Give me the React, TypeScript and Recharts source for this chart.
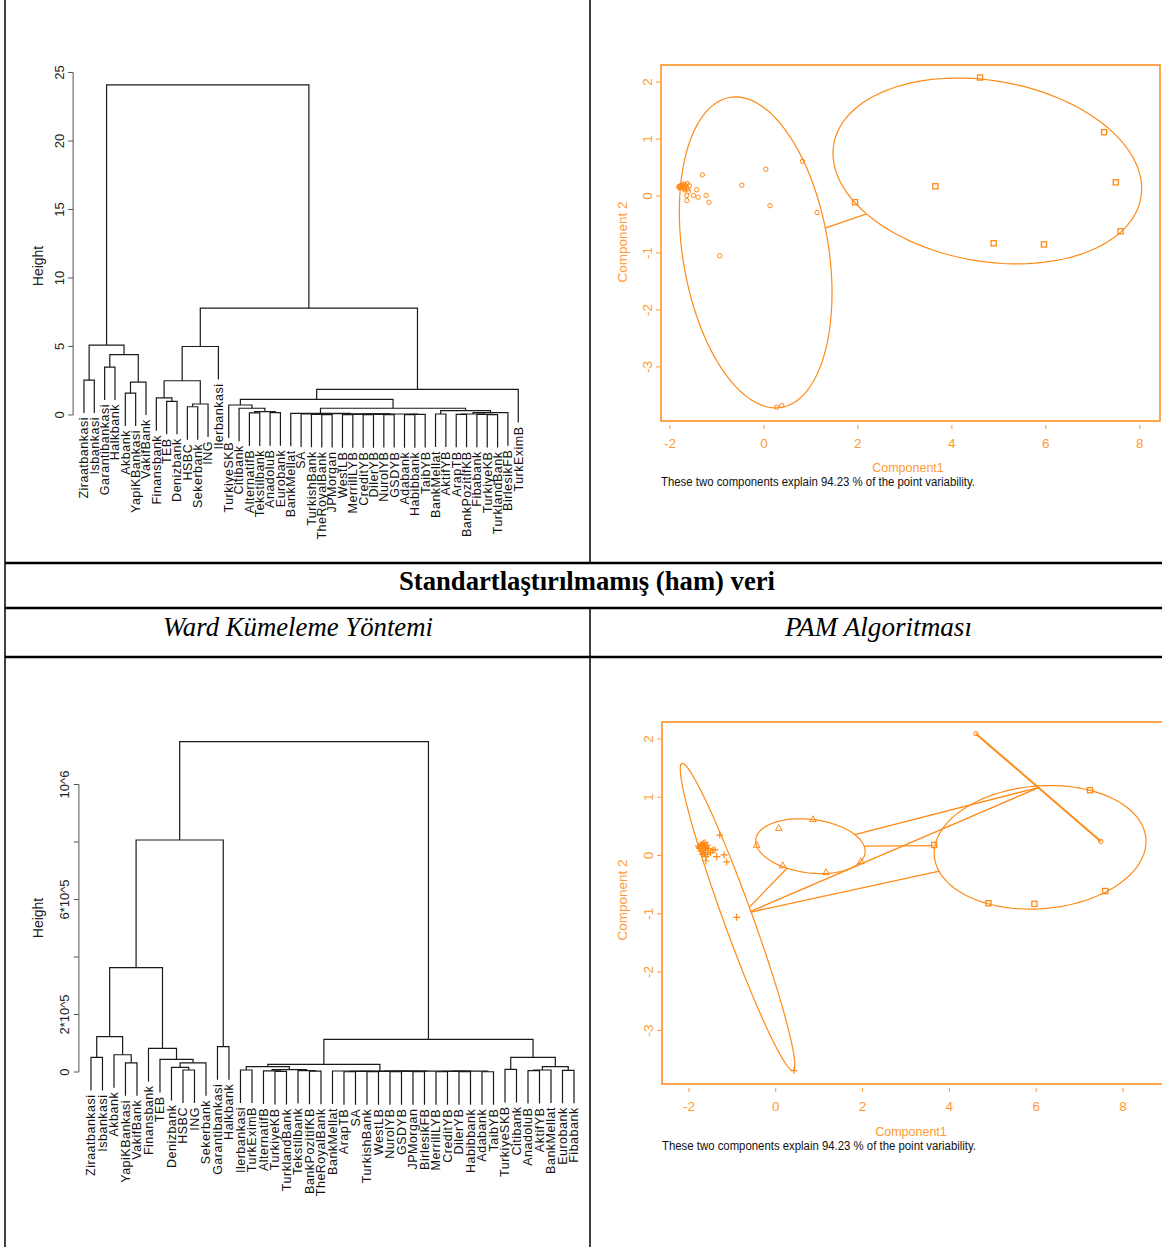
import React from "react";
import { ScatterChart, Scatter, XAxis, YAxis, ReferenceLine, ReferenceArea } from "recharts";

// ---------- dendrogram data ----------
// merges: [id, left, right, height]; a number is a leaf index, a string an earlier merge
type Ref = number | string;
type Merge = [string, Ref, Ref, number];

const topLeaves = [
  "Ziraatbankasi", "Isbankasi", "Garantibankasi", "Halkbank", "Akbank", "YapiKBankasi", "VakifBank",
  "Finansbank", "TEB", "Denizbank", "HSBC", "Sekerbank", "ING", "Ilerbankasi",
  "TurkiyeSKB", "Citibank", "AlternatifB", "Tekstilbank", "AnadoluB", "Eurobank",
  "BankMellat", "SA", "TurkishBank", "TheRoyalBank", "JPMorgan", "WestLB", "MerrillLYB", "CreditYB",
  "DilerYB", "NurolYB", "GSDYB", "Adabank", "Habibbank", "TaibYB",
  "BankMellat", "AktifYB", "ArapTB", "BankPozitifKB", "Fibabank", "TurkiyeKB", "TurklandBank", "BirlesikFB",
  "TurkEximB",
];

const topMerges: Merge[] = [
  ["t1", 0, 1, 2.55], ["t2", 2, 3, 3.5], ["t3", 4, 5, 1.6], ["t4", "t3", 6, 2.4],
  ["t5", "t2", "t4", 4.4], ["t6", "t1", "t5", 5.1],
  ["t7", 8, 9, 1.0], ["t8", 7, "t7", 1.25], ["t9", 10, 11, 0.6], ["t10", "t9", 12, 0.8],
  ["t11", "t8", "t10", 2.5], ["t12", "t11", 13, 5.0],
  ["p1", 16, 17, 0.15], ["p2", 18, 19, 0.17], ["p3", "p1", "p2", 0.24], ["p4", 15, "p3", 0.49], ["p5", 14, "p4", 0.73],
  ["q1", 23, 24, 0.03], ["q2", 22, "q1", 0.05], ["q3", 21, "q2", 0.07],
  ["q4", 25, 26, 0.02], ["q5", 27, 28, 0.02], ["q6", 29, 30, 0.03], ["q7", "q5", "q6", 0.04],
  ["q8", "q4", "q7", 0.05], ["q9", 31, 32, 0.02], ["q10", "q9", 33, 0.04], ["q11", "q8", "q10", 0.07],
  ["q12", "q3", "q11", 0.09], ["q13", 20, "q12", 0.12],
  ["r1", 34, 35, 0.07], ["r2", 36, 37, 0.05], ["r3", 39, 40, 0.03], ["r4", 38, "r3", 0.05],
  ["r5", "r2", "r4", 0.07], ["r6", "r5", 41, 0.17], ["r7", "r1", "r6", 0.32],
  ["s1", "q13", "r7", 0.49], ["s2", "p5", "s1", 1.14], ["s3", "s2", 42, 1.87], ["s4", "t12", "s3", 7.8],
  ["root", "t6", "s4", 24.1],
];
const topTicks = [0, 5, 10, 15, 20, 25];

const bottomLeaves = [
  "Ziraatbankasi", "Isbankasi", "Akbank", "YapiKBankasi", "VakifBank", "Finansbank", "TEB",
  "Denizbank", "HSBC", "ING", "Sekerbank", "Garantibankasi", "Halkbank",
  "Ilerbankasi", "TurkEximB", "AlternatifB", "TurkiyeKB", "TurklandBank", "Tekstilbank", "BankPozitifKB",
  "TheRoyalBank", "BankMellat", "ArapTB", "SA", "TurkishBank", "WestLB", "NurolYB", "GSDYB", "JPMorgan",
  "BirlesikFB", "MerrillLYB", "CreditYB", "DilerYB", "Habibbank", "Adabank", "TaibYB",
  "TurkiyeSKB", "Citibank", "AnadoluB", "AktifYB", "BankMellat", "Eurobank", "Fibabank",
];

const bottomMerges: Merge[] = [
  ["b1", 0, 1, 51000], ["b2", 3, 4, 32000], ["b3", 2, "b2", 60000], ["b4", "b1", "b3", 123000],
  ["b5", 8, 9, 7000], ["b6", 7, "b5", 16000], ["b7", "b6", 10, 32000], ["b8", 6, "b7", 44000],
  ["b9", 5, "b8", 82000], ["b10", "b4", "b9", 363000], ["b11", 11, 12, 88000], ["b12", "b10", "b11", 807000],
  ["d1", 13, 14, 7000], ["d2", 16, 17, 2000], ["d3", 15, "d2", 4000], ["d4", 19, 20, 3000],
  ["d5", 18, "d4", 5000], ["d6", "d3", "d5", 8000], ["d7", "d1", "d6", 18600],
  ["g1", 22, 23, 1000], ["g2", 24, 25, 1500], ["g3", "g1", "g2", 2000], ["g4", 26, 27, 1000],
  ["g5", 28, 29, 1500], ["g6", "g4", "g5", 2000], ["g7", 30, 31, 1000], ["g8", 32, 33, 1200],
  ["g9", "g7", "g8", 2500], ["g10", 34, 35, 1000], ["g11", "g9", "g10", 3000], ["g12", "g3", "g6", 2500],
  ["g13", "g12", "g11", 3200], ["f1", 21, "g13", 3500], ["e1", "d7", "f1", 26700],
  ["c1", 38, 39, 5000], ["c2", "c1", 40, 7000], ["c3", 41, 42, 6000], ["c4", "c2", "c3", 18600],
  ["c5", 36, 37, 9300], ["c6", "c5", "c4", 51000], ["e2", "e1", "c6", 113700],
  ["root", "b12", "e2", 1149000],
];
const bottomTicks = [0, 200000, 400000, 600000, 800000, 1000000];
const bottomTickLabels: Record<number, string> = { 0: "0", 200000: "2*10^5", 600000: "6*10^5", 1000000: "10^6" };

// ---------- clusplot data (Component1, Component2) ----------
const topCircles: [number, number][] = [
  [-1.8, 0.17], [-1.78, 0.15], [-1.77, 0.18], [-1.79, 0.14], [-1.76, 0.16], [-1.81, 0.16], [-1.74, 0.15],
  [-1.75, 0.19], [-1.72, 0.17], [-1.7, 0.14], [-1.68, 0.2], [-1.63, 0.22], [-1.59, 0.18], [-1.66, 0.13],
  [-1.61, 0.08], [-1.64, 0.01], [-1.64, -0.08], [-1.5, 0.01], [-1.43, 0.11], [-1.4, -0.02], [-1.31, 0.37],
  [-1.23, 0.01], [-1.17, -0.11], [-0.94, -1.05], [-0.47, 0.19], [0.04, 0.47], [0.13, -0.17], [0.82, 0.61],
  [1.13, -0.29], [0.38, -3.68], [0.27, -3.71], [-1.69, 0.11], [-1.72, 0.21], [-1.66, 0.17], [-1.62, 0.12],
];
const topSquares: [number, number][] = [
  [4.6, 2.08], [7.24, 1.12], [3.65, 0.17], [7.49, 0.24], [1.94, -0.11], [4.89, -0.83], [5.96, -0.85], [7.59, -0.62],
];
// ellipse: [centre x, centre y, var x, var y, cov xy]
const topEllipse1 = [-0.175, -0.99, 2.64, 7.45, -1.16];
const topEllipse2 = [4.755, 0.44, 10.79, 2.66, -1.02];
const topLinks: [number, number][][] = [[[1.32, -0.56], [2.17, -0.32]]];

const botCrosses: [number, number][] = [
  [-1.78, 0.16], [-1.75, 0.14], [-1.73, 0.18], [-1.76, 0.12], [-1.71, 0.15], [-1.7, 0.19], [-1.68, 0.13],
  [-1.67, 0.21], [-1.65, 0.17], [-1.63, 0.22], [-1.62, 0.1], [-1.6, 0.14], [-1.66, 0.06], [-1.64, 0.03],
  [-1.61, -0.02], [-1.61, -0.09], [-1.58, 0.18], [-1.55, 0.12], [-1.5, 0.05], [-1.45, 0.09], [-1.4, 0.1],
  [-1.36, -0.02], [-1.29, 0.35], [-1.19, 0.01], [-1.13, -0.11], [-0.9, -1.06], [0.42, -3.69], [-1.72, 0.08],
  [-1.69, 0.02], [-1.57, 0.02],
];
const botTriangles: [number, number][] = [[0.07, 0.47], [0.86, 0.62], [-0.44, 0.18], [0.16, -0.17], [1.16, -0.29], [1.96, -0.1]];
const botSquares: [number, number][] = [[3.65, 0.18], [4.9, -0.82], [5.96, -0.83], [7.59, -0.61], [7.24, 1.12]];
const botCircles: [number, number][] = [[4.61, 2.09], [7.49, 0.24]];
const botEllipseA = [-0.88, -1.055, 1.742, 6.943, -3.35];
const botEllipseB = [0.8, 0.16, 1.588, 0.2209, -0.113];
const botEllipseC = [6.09, 0.14, 5.954, 1.1236, 0.244];
const botLinks: [number, number][][] = [
  [[-0.61, -0.89], [0.27, -0.21]],
  [[-0.57, -0.97], [3.77, -0.27]],
  [[-0.58, -0.96], [6.07, 1.17]],
  [[2.04, 0.16], [3.63, 0.17]],
  [[1.82, 0.36], [6.07, 1.17]],
];
const clusXTicks = [-2, 0, 2, 4, 6, 8];
const clusYTicks = [-3, -2, -1, 0, 1, 2];

// ---------- helpers ----------
const W = 1162;
const H = 1247;
const FONT = '"Liberation Sans", Arial, Helvetica, sans-serif';
const SERIF = '"Liberation Serif", "Times New Roman", serif';
const OR = "#ff8a15";
const OR_TXT = "#ff9a33";
const INK = "#1a1a1a";

type Rect = { left: number; right: number; top: number; bottom: number };

function buildTree(leaves: string[], merges: Merge[]) {
  const hang = 0.1 * Math.max(...merges.map((m) => m[3]));
  const pos: Record<string, { x: number; h: number }> = {};
  const leafEnd = leaves.map(() => 0);
  const segments = merges.map(([id, a, b, h]) => {
    const side = (r: Ref) => {
      if (typeof r === "number") {
        leafEnd[r] = h - hang;
        return { x: r, h: h - hang };
      }
      return pos[r];
    };
    const pa = side(a);
    const pb = side(b);
    pos[id] = { x: (pa.x + pb.x) / 2, h };
    return [
      { x: pa.x, y: pa.h }, { x: pa.x, y: h }, { x: pb.x, y: h }, { x: pb.x, y: pb.h },
    ];
  });
  const labels = leaves.map((name, i) => ({ x: i, y: leafEnd[i], name }));
  return { segments, labels };
}

function ellipse([cx, cy, sxx, syy, sxy]: number[]) {
  const a = Math.sqrt(sxx);
  const l21 = sxy / a;
  const l22 = Math.sqrt(syy - l21 * l21);
  return Array.from({ length: 121 }, (_, k) => {
    const t = (2 * Math.PI * k) / 120;
    return { x: cx + a * Math.cos(t), y: cy + l21 * Math.cos(t) + l22 * Math.sin(t) };
  });
}

const pts = (arr: [number, number][]) => arr.map(([x, y]) => ({ x, y }));
const noShape = () => <g />;

const leafLabel = (p: any) => {
  const x = p.cx;
  const y = p.cy + 4;
  const name = p.payload?.name ?? p.name;
  return (
    <text x={x} y={y} transform={`rotate(-90 ${x} ${y})`} textAnchor="end" dy="0.35em"
      fontSize={12.5} letterSpacing={0.5} fill="#111" fontFamily={FONT}>
      {name}
    </text>
  );
};

const circleMark = (p: any) => <circle cx={p.cx} cy={p.cy} r={2.2} fill="none" stroke={OR} strokeWidth={1} />;
const squareMark = (p: any) => (
  <rect x={p.cx - 2.6} y={p.cy - 2.6} width={5.2} height={5.2} fill="none" stroke={OR} strokeWidth={1.3} />
);
const crossMark = (p: any) => (
  <path d={`M${p.cx - 3.5},${p.cy}H${p.cx + 3.5}M${p.cx},${p.cy - 3.5}V${p.cy + 3.5}`} stroke={OR} strokeWidth={1.2} />
);
const triangleMark = (p: any) => (
  <path d={`M${p.cx},${p.cy - 3.6}L${p.cx + 3.3},${p.cy + 2.3}L${p.cx - 3.3},${p.cy + 2.3}Z`} fill="none" stroke={OR} strokeWidth={1} />
);

function Dendrogram(props: {
  leaves: string[]; merges: Merge[]; ticks: number[]; fmt: (v: number) => string;
  plot: Rect; xDomain: [number, number]; yDomain: [number, number]; labelX: number;
}) {
  const { plot, xDomain, yDomain, ticks, fmt, labelX } = props;
  const { segments, labels } = buildTree(props.leaves, props.merges);
  const yTick = (p: any) => (
    <g>
      <line x1={plot.left - 5} x2={plot.left} y1={p.y} y2={p.y} stroke="#555" strokeWidth={1} />
      <text x={labelX} y={p.y} transform={`rotate(-90 ${labelX} ${p.y})`} textAnchor="middle" dy="0.35em"
        fontSize={13} fill="#222" fontFamily={FONT}>
        {fmt(p.payload.value)}
      </text>
    </g>
  );
  return (
    <div style={{ position: "absolute", left: 0, top: 0 }}>
      <ScatterChart width={W} height={H}
        margin={{ top: plot.top, right: W - plot.right, bottom: H - plot.bottom, left: 0 }}>
        <XAxis type="number" dataKey="x" domain={xDomain} hide />
        <YAxis type="number" dataKey="y" domain={yDomain} ticks={ticks} interval={0} width={plot.left}
          axisLine={false} tickLine={false} tick={yTick} />
        <ReferenceLine segment={[{ x: xDomain[0], y: ticks[0] }, { x: xDomain[0], y: ticks[ticks.length - 1] }]}
          stroke="#555" strokeWidth={1} />
        {segments.map((seg, i) => (
          <Scatter key={i} data={seg} line={{ stroke: INK, strokeWidth: 1.2 }} shape={noShape} isAnimationActive={false} />
        ))}
        <Scatter data={labels} shape={leafLabel} isAnimationActive={false} />
      </ScatterChart>
    </div>
  );
}

function ClusPlot(props: {
  plot: Rect; width: number; xDomain: [number, number]; yDomain: [number, number];
  ellipses: number[][]; links: [number, number][][]; children?: React.ReactNode;
}) {
  const { plot, width, xDomain, yDomain } = props;
  const xTick = (p: any) => (
    <g>
      <line x1={p.x} x2={p.x} y1={plot.bottom + 4} y2={plot.bottom + 8} stroke={OR_TXT} strokeWidth={1} />
      <text x={p.x} y={plot.bottom + 22} textAnchor="middle" dy="0.35em" fontSize={13.5} fill={OR_TXT} fontFamily={FONT}>
        {String(p.payload.value)}
      </text>
    </g>
  );
  const yTick = (p: any) => {
    const lx = plot.left - 14;
    return (
      <g>
        <line x1={plot.left - 5} x2={plot.left} y1={p.y} y2={p.y} stroke={OR_TXT} strokeWidth={1} />
        <text x={lx} y={p.y} transform={`rotate(-90 ${lx} ${p.y})`} textAnchor="middle" dy="0.35em"
          fontSize={13.5} fill={OR_TXT} fontFamily={FONT}>
          {String(p.payload.value)}
        </text>
      </g>
    );
  };
  return (
    <div style={{ position: "absolute", left: 0, top: 0 }}>
      <ScatterChart width={width} height={H}
        margin={{ top: plot.top, right: width - plot.right, bottom: H - plot.bottom - 40, left: plot.left - 60 }}>
        <XAxis type="number" dataKey="x" domain={xDomain} ticks={clusXTicks} interval={0} height={40}
          axisLine={false} tickLine={false} tick={xTick} />
        <YAxis type="number" dataKey="y" domain={yDomain} ticks={clusYTicks} interval={0} width={60}
          axisLine={false} tickLine={false} tick={yTick} />
        <ReferenceArea x1={xDomain[0]} x2={xDomain[1]} y1={yDomain[0]} y2={yDomain[1]}
          fill="none" fillOpacity={0} stroke={OR} strokeWidth={1.5} />
        {props.ellipses.map((e, i) => (
          <Scatter key={"e" + i} data={ellipse(e)} line={{ stroke: OR, strokeWidth: 1.2 }} shape={noShape} isAnimationActive={false} />
        ))}
        {props.links.map((l, i) => (
          <Scatter key={"l" + i} data={pts(l)} line={{ stroke: OR, strokeWidth: 1.3 }} shape={noShape} isAnimationActive={false} />
        ))}
        {props.children}
      </ScatterChart>
    </div>
  );
}

function Overlay() {
  const txt = { fontFamily: FONT };
  return (
    <svg width={W} height={H} style={{ position: "absolute", left: 0, top: 0, pointerEvents: "none" }}>
      {/* table rules */}
      <line x1={5} x2={5} y1={0} y2={H} stroke="#000" strokeWidth={1.5} />
      <line x1={590} x2={590} y1={0} y2={563} stroke="#000" strokeWidth={1.5} />
      <line x1={590} x2={590} y1={608} y2={H} stroke="#000" strokeWidth={1.5} />
      {[563, 608, 657].map((y) => (
        <line key={y} x1={5} x2={W} y1={y} y2={y} stroke="#000" strokeWidth={2.5} />
      ))}
      <text x={587} y={581} dy="0.35em" textAnchor="middle" fontFamily={SERIF} fontWeight="bold" fontSize={27}
        textLength={376} lengthAdjust="spacingAndGlyphs">Standartlaştırılmamış (ham) veri</text>
      <text x={298} y={627} dy="0.35em" textAnchor="middle" fontFamily={SERIF} fontStyle="italic" fontSize={27}
        textLength={270} lengthAdjust="spacingAndGlyphs">Ward Kümeleme Yöntemi</text>
      <text x={878.5} y={627} dy="0.35em" textAnchor="middle" fontFamily={SERIF} fontStyle="italic" fontSize={27}
        textLength={187} lengthAdjust="spacingAndGlyphs">PAM Algoritması</text>

      {/* dendrogram axis titles */}
      <text x={38} y={266} dy="0.35em" transform="rotate(-90 38 266)" textAnchor="middle" fontSize={14} fill="#222" style={txt}>Height</text>
      <text x={38} y={918} dy="0.35em" transform="rotate(-90 38 918)" textAnchor="middle" fontSize={14} fill="#222" style={txt}>Height</text>

      {/* clusplot titles */}
      <text x={622} y={242} dy="0.35em" transform="rotate(-90 622 242)" textAnchor="middle" fontSize={13.5} fill={OR_TXT} style={txt}>Component 2</text>
      <text x={908} y={468} dy="0.35em" textAnchor="middle" fontSize={12.5} fill={OR_TXT} style={txt}>Component1</text>
      <text x={661} y={482} dy="0.35em" fontSize={12.5} fill="#111" style={txt} textLength={314} lengthAdjust="spacingAndGlyphs">
        These two components explain 94.23 % of the point variability.
      </text>
      <text x={622} y={900} dy="0.35em" transform="rotate(-90 622 900)" textAnchor="middle" fontSize={13.5} fill={OR_TXT} style={txt}>Component 2</text>
      <text x={911} y={1132} dy="0.35em" textAnchor="middle" fontSize={12.5} fill={OR_TXT} style={txt}>Component1</text>
      <text x={662} y={1146} dy="0.35em" fontSize={12.5} fill="#111" style={txt} textLength={314} lengthAdjust="spacingAndGlyphs">
        These two components explain 94.23 % of the point variability.
      </text>
    </svg>
  );
}

export default function App() {
  return (
    <div style={{ position: "absolute", left: 0, top: 0, width: W, height: H, overflow: "hidden", background: "#fff" }}>
      <Dendrogram leaves={topLeaves} merges={topMerges} ticks={topTicks} fmt={(v) => String(v)}
        plot={{ left: 73.1, right: 528.6, top: 58.8, bottom: 450.6 }} xDomain={[-1.05, 43]} yDomain={[-2.6, 26]} labelX={59} />
      <Dendrogram leaves={bottomLeaves} merges={bottomMerges} ticks={bottomTicks} fmt={(v) => bottomTickLabels[v] ?? ""}
        plot={{ left: 78.9, right: 585.5, top: 727, bottom: 1109.4 }} xDomain={[-1.05, 43]} yDomain={[-130000, 1200000]} labelX={64} />

      <ClusPlot plot={{ left: 661, right: 1160, top: 65, bottom: 421 }} width={W} xDomain={[-2.19, 8.43]} yDomain={[-3.95, 2.3]}
        ellipses={[topEllipse1, topEllipse2]} links={topLinks}>
        <Scatter data={pts(topCircles)} shape={circleMark} isAnimationActive={false} />
        <Scatter data={pts(topSquares)} shape={squareMark} isAnimationActive={false} />
      </ClusPlot>

      <ClusPlot plot={{ left: 662, right: 1175.1, top: 722, bottom: 1084 }} width={1180} xDomain={[-2.62, 9.2]} yDomain={[-3.92, 2.29]}
        ellipses={[botEllipseA, botEllipseB, botEllipseC]} links={botLinks}>
        <Scatter data={pts(botCircles)} line={{ stroke: OR, strokeWidth: 2 }} shape={circleMark} isAnimationActive={false} />
        <Scatter data={pts(botCrosses)} shape={crossMark} isAnimationActive={false} />
        <Scatter data={pts(botTriangles)} shape={triangleMark} isAnimationActive={false} />
        <Scatter data={pts(botSquares)} shape={squareMark} isAnimationActive={false} />
      </ClusPlot>

      <Overlay />
    </div>
  );
}
